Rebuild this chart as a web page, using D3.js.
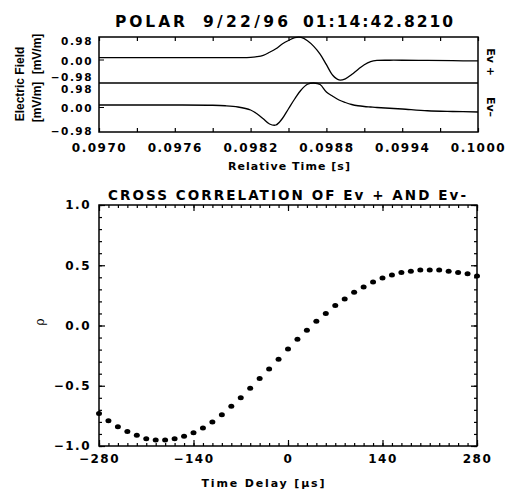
<!DOCTYPE html>
<html lang="en">
<head>
<meta charset="UTF-8" />
<title>POLAR 9/22/96 cross correlation</title>
<script src="https://d3js.org/d3.v7.min.js"></script>
<style>
  body { margin: 0; background: #fff; }
  text { font-family: "DejaVu Sans", sans-serif; font-weight: bold; fill: #000; }
</style>
</head>
<body>
<div id="chart"></div>
<script>
// ---- top panel data: time [s] and field [mV/m]
var timeS = [0.0970, 0.0973, 0.0976, 0.0979, 0.0980, 0.0981, 0.0982, 0.09825, 0.0983, 0.09835,
             0.0984, 0.09845, 0.0985, 0.09855, 0.0986, 0.09865, 0.0987, 0.09875, 0.0988, 0.09885,
             0.0989, 0.09895, 0.0990, 0.09905, 0.0991, 0.09915, 0.0992, 0.0993, 0.0994, 0.0996,
             0.0998, 0.1000];
var evPlus = [0.10, 0.10, 0.10, 0.10, 0.10, 0.10, 0.11, 0.14, 0.20, 0.33,
              0.48, 0.68, 0.83, 0.95, 0.96, 0.82, 0.58, 0.25, -0.20, -0.65,
              -0.85, -0.80, -0.62, -0.40, -0.20, -0.07, -0.02, -0.01, -0.01, -0.02,
              -0.03, -0.04];
var evMinus = [0.10, 0.10, 0.10, 0.09, 0.07, 0.02, -0.10, -0.25, -0.45, -0.66,
               -0.70, -0.45, -0.05, 0.35, 0.70, 0.93, 0.98, 0.92, 0.62, 0.45,
               0.30, 0.20, 0.12, 0.07, 0.04, 0.02, 0.00, -0.03, -0.06, -0.13,
               -0.16, -0.18];
var fieldTicks = [-0.98, 0, 0.98];
var timeTicks = [0.0970, 0.0976, 0.0982, 0.0988, 0.0994, 0.1000];

// ---- bottom panel data: lag [us] and correlation
var lagUs = [-280, -266, -252, -238, -224, -210, -196, -182, -168, -154, -140, -126, -112, -98,
             -84, -70, -56, -42, -28, -14, 0, 14, 28, 42, 56, 70, 84, 98, 112, 126, 140,
             154, 168, 182, 196, 210, 224, 238, 252, 266, 280];
var rho = [-0.73, -0.79, -0.84, -0.88, -0.91, -0.94, -0.95, -0.95, -0.94, -0.92, -0.89, -0.85, -0.80, -0.74,
           -0.67, -0.60, -0.52, -0.44, -0.36, -0.28, -0.195, -0.115, -0.04, 0.035, 0.10, 0.165, 0.22, 0.275,
           0.32, 0.36, 0.395, 0.42, 0.44, 0.45, 0.46, 0.46, 0.46, 0.45, 0.44, 0.43, 0.41];
var lagTicks = [-280, -140, 0, 140, 280];
var rhoTicks = [-1.0, -0.5, 0.0, 0.5, 1.0];

var svg = d3.select("#chart").append("svg")
    .attr("width", 520)
    .attr("height", 490);
svg.append("rect").attr("width", 520).attr("height", 490).attr("fill", "#fff");

// axis helper: inward ticks, no domain line
function drawAxis(axis, tx, ty, labelSize) {
  var g = svg.append("g").attr("transform", "translate(" + tx + "," + ty + ")").call(axis);
  g.select(".domain").remove();
  g.selectAll(".tick line").attr("stroke", "#000").attr("stroke-width", 1.2);
  g.selectAll("text")
    .style("font-size", (labelSize || 12) + "px")
    .style("letter-spacing", "1.5px")
    .style("font-family", '"DejaVu Sans", sans-serif')
    .style("font-weight", "bold")
    .attr("fill", "#000");
  return g;
}

// ================= top panel =================
var xT = d3.scaleLinear().domain([0.0970, 0.1000]).range([99, 478]);
var yUp = d3.scaleLinear().domain([-0.98, 0.98]).range([83, 37]);
var yLo = d3.scaleLinear().domain([-0.98, 0.98]).range([132, 83]);
var timeMinor = d3.range(0.0970, 0.10001, 0.0003);

drawAxis(d3.axisBottom(xT).tickValues(timeTicks).tickFormat(d3.format(".4f"))
  .tickSizeInner(0).tickSizeOuter(0).tickPadding(11), 0, 132, 12);
drawAxis(d3.axisBottom(xT).tickValues(timeMinor).tickFormat("")
  .tickSizeInner(-4).tickSizeOuter(0), 0, 132);
drawAxis(d3.axisTop(xT).tickValues(timeMinor).tickFormat("")
  .tickSizeInner(-4).tickSizeOuter(0), 0, 37);

// field tick labels, nudged inside each sub panel like the original
var upAx = drawAxis(d3.axisLeft(yUp).tickValues(fieldTicks).tickFormat(d3.format(".2f"))
  .tickSizeInner(0).tickSizeOuter(0).tickPadding(6), 99, 0, 10.5);
upAx.selectAll("text").attr("dy", function(d) { return d > 0 ? "0.75em" : (d < 0 ? "-0.2em" : "0.45em"); });
var loAx = drawAxis(d3.axisLeft(yLo).tickValues(fieldTicks).tickFormat(d3.format(".2f"))
  .tickSizeInner(0).tickSizeOuter(0).tickPadding(6), 99, 0, 10.5);
loAx.selectAll("text").attr("dy", function(d) { return d > 0 ? "0.9em" : (d < 0 ? "0.2em" : "0.42em"); });
// small zero ticks
svg.append("line").attr("x1", 99).attr("x2", 104).attr("y1", yUp(0)).attr("y2", yUp(0)).attr("stroke", "#000");
svg.append("line").attr("x1", 99).attr("x2", 104).attr("y1", yLo(0)).attr("y2", yLo(0)).attr("stroke", "#000");

var lineUp = d3.line().curve(d3.curveCatmullRom)
  .x(function(d, i) { return xT(timeS[i]); })
  .y(function(d) { return yUp(d); });
var lineLo = d3.line().curve(d3.curveCatmullRom)
  .x(function(d, i) { return xT(timeS[i]); })
  .y(function(d) { return yLo(d); });
svg.append("path").datum(evPlus).attr("d", lineUp)
  .attr("fill", "none").attr("stroke", "#000").attr("stroke-width", 1.3);
svg.append("path").datum(evMinus).attr("d", lineLo)
  .attr("fill", "none").attr("stroke", "#000").attr("stroke-width", 1.3);

// frame and divider
svg.append("rect").attr("x", 99).attr("y", 37).attr("width", 379).attr("height", 95)
  .attr("fill", "none").attr("stroke", "#000").attr("stroke-width", 1.5);
svg.append("line").attr("x1", 99).attr("x2", 478).attr("y1", 83).attr("y2", 83)
  .attr("stroke", "#000").attr("stroke-width", 1.3);

// titles and labels
svg.append("text").attr("x", 115).attr("y", 27).attr("textLength", 70).style("font-size", "15.5px").text("POLAR");
svg.append("text").attr("x", 203).attr("y", 27).attr("textLength", 85).style("font-size", "15.5px").text("9/22/96");
svg.append("text").attr("x", 303).attr("y", 27).attr("textLength", 150).style("font-size", "15.5px").text("01:14:42.8210");
svg.append("text").attr("x", 289).attr("y", 170).attr("text-anchor", "middle")
  .attr("textLength", 122).style("font-size", "11px").text("Relative Time [s]");

svg.append("text").attr("transform", "translate(24,84) rotate(-90)").attr("text-anchor", "middle")
  .style("font-family", '"Liberation Sans", sans-serif').style("font-size", "12px").text("Electric Field");
svg.append("text").attr("transform", "translate(41,54) rotate(-90)").attr("text-anchor", "middle")
  .style("font-family", '"Liberation Sans", sans-serif').style("font-size", "12px").text("[mV/m]");
svg.append("text").attr("transform", "translate(41,102) rotate(-90)").attr("text-anchor", "middle")
  .style("font-family", '"Liberation Sans", sans-serif').style("font-size", "12px").text("[mV/m]");
svg.append("text").attr("transform", "translate(487,62) rotate(90)").attr("text-anchor", "middle")
  .style("font-size", "11px").text("Ev +");
svg.append("text").attr("transform", "translate(487,107) rotate(90)").attr("text-anchor", "middle")
  .style("font-size", "11px").text("Ev\u2013");

// ================= bottom panel =================
var x2 = d3.scaleLinear().domain([-280, 280]).range([99, 477]);
var y2 = d3.scaleLinear().domain([-1, 1]).range([446, 205]);
var rhoMinor = d3.range(-1, 1.001, 0.1);

drawAxis(d3.axisBottom(x2).tickValues(lagTicks).tickFormat(d3.format("d"))
  .tickSizeInner(-6).tickSizeOuter(0).tickPadding(8), 0, 446, 12);
drawAxis(d3.axisBottom(x2).tickValues(lagUs).tickFormat("").tickSizeInner(-3).tickSizeOuter(0), 0, 446);
drawAxis(d3.axisTop(x2).tickValues(lagTicks).tickFormat("").tickSizeInner(-6).tickSizeOuter(0), 0, 205);
drawAxis(d3.axisTop(x2).tickValues(lagUs).tickFormat("").tickSizeInner(-3).tickSizeOuter(0), 0, 205);
drawAxis(d3.axisLeft(y2).tickValues(rhoTicks).tickFormat(d3.format(".1f"))
  .tickSizeInner(-6).tickSizeOuter(0).tickPadding(8), 99, 0, 12);
drawAxis(d3.axisLeft(y2).tickValues(rhoMinor).tickFormat("").tickSizeInner(-3).tickSizeOuter(0), 99, 0);
drawAxis(d3.axisRight(y2).tickValues(rhoTicks).tickFormat("").tickSizeInner(-6).tickSizeOuter(0), 477, 0);
drawAxis(d3.axisRight(y2).tickValues(rhoMinor).tickFormat("").tickSizeInner(-3).tickSizeOuter(0), 477, 0);

svg.append("rect").attr("x", 99).attr("y", 205).attr("width", 378).attr("height", 241)
  .attr("fill", "none").attr("stroke", "#000").attr("stroke-width", 1.5);

svg.append("g").selectAll("ellipse")
  .data(rho)
  .enter()
  .append("ellipse")
    .attr("cx", function(d, i) { return x2(lagUs[i]); })
    .attr("cy", function(d) { return y2(d); })
    .attr("rx", 3)
    .attr("ry", 2.5)
    .attr("fill", "#000");

svg.append("text").attr("x", 108).attr("y", 200).attr("textLength", 358)
  .style("font-size", "13.5px").text("CROSS CORRELATION OF Ev + AND Ev-");
svg.append("text").attr("x", 263).attr("y", 487).attr("text-anchor", "middle")
  .attr("textLength", 123).style("font-size", "11px").text("Time Delay [\u00b5s]");
svg.append("text").attr("transform", "translate(44,322) rotate(-90)").attr("text-anchor", "middle")
  .style("font-family", '"DejaVu Serif", serif').style("font-weight", "normal").style("font-size", "12px").text("\u03c1");
</script>
</body>
</html>
